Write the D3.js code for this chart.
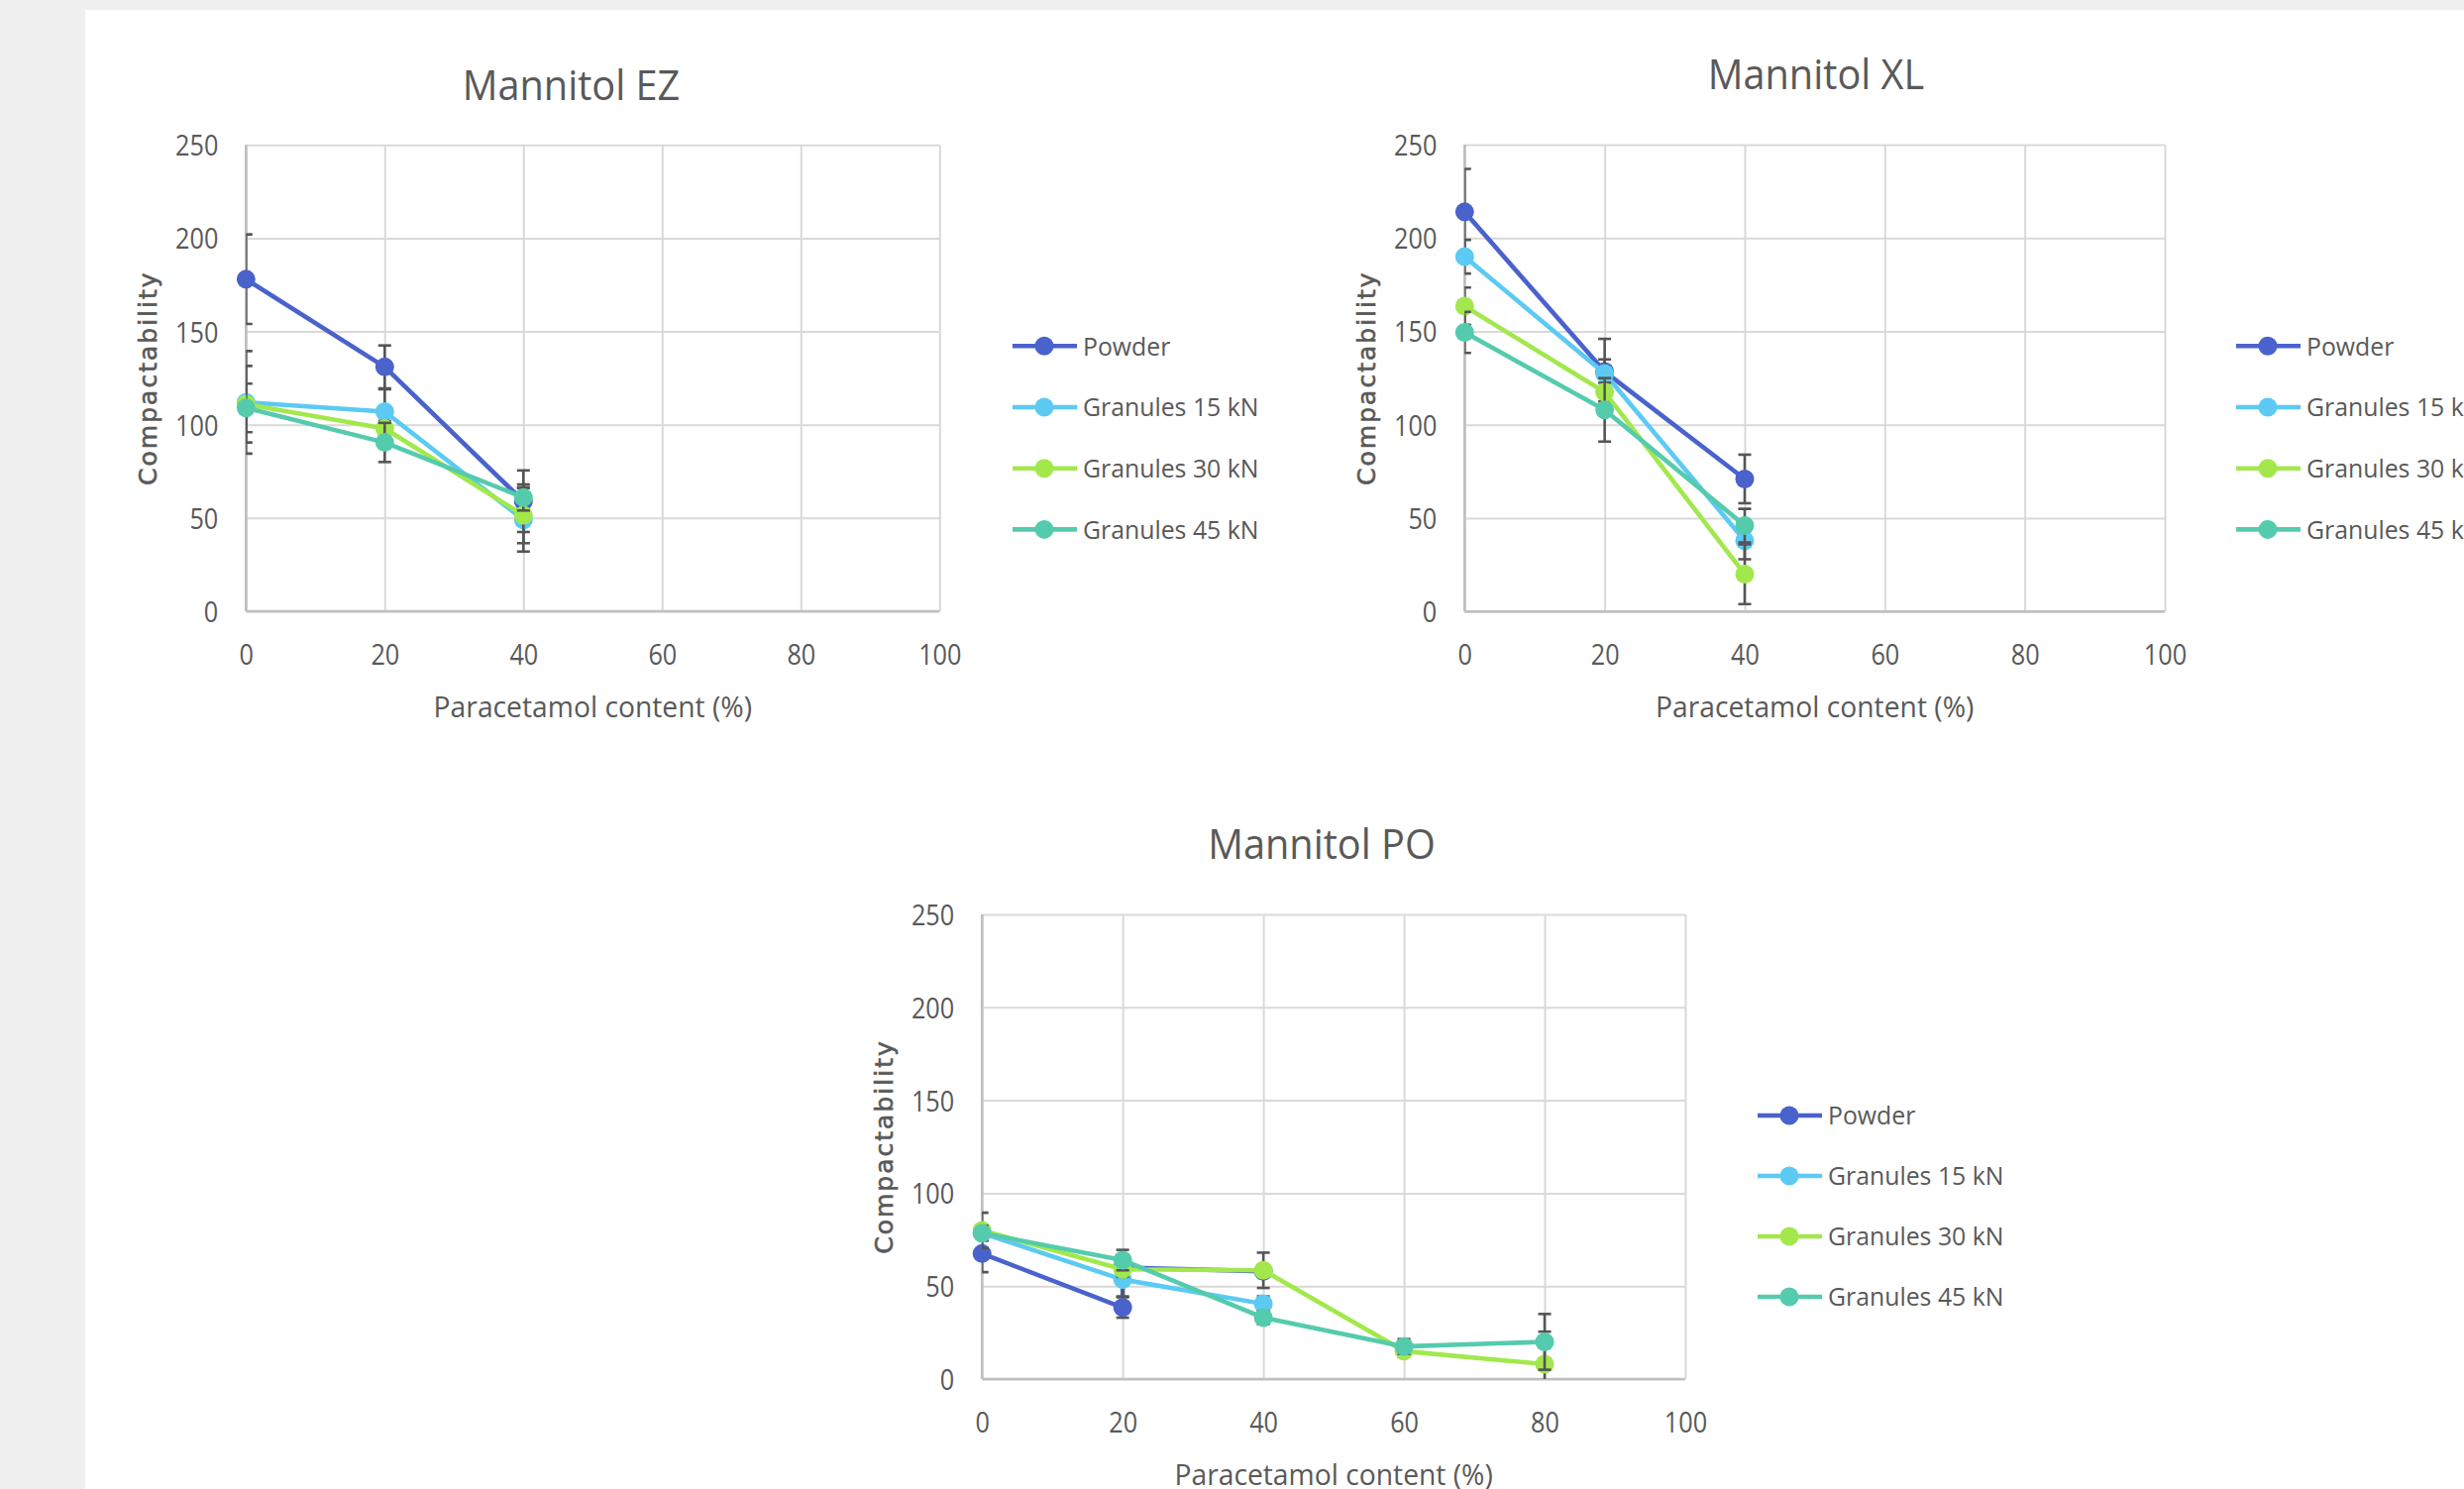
<!DOCTYPE html>
<html><head><meta charset="utf-8">
<script src="https://cdn.jsdelivr.net/npm/d3@7"></script>
<style>html,body{margin:0;padding:0;background:#f0f0f0;overflow:hidden}</style>
</head><body><svg id="c" width="2487" height="1503"></svg>
<script>
// ---------- DATA ----------
const seriesNames = ["Powder", "Granules 15 kN", "Granules 30 kN", "Granules 45 kN"];
const xTicks = [0, 20, 40, 60, 80, 100];
const yTicks = [0, 50, 100, 150, 200, 250];
const xTitle = "Paracetamol content (%)";
const yTitle = "Compactability";

// Mannitol EZ
const ezPowderX = [0, 20, 40], ezPowderY = [178, 131, 59], ezPowderErr = [24, 11.5, 16.5];
const ez15X = [0, 20, 40], ez15Y = [112, 107, 49], ez15Err = [27.5, 12, 17];
const ez30X = [0, 20, 40], ez30Y = [111, 98, 51.5], ez30Err = [20.5, 4, 15];
const ez45X = [0, 20, 40], ez45Y = [109, 90.5, 61], ez45Err = [13, 10.5, 7];

// Mannitol XL
const xlPowderX = [0, 20, 40], xlPowderY = [214, 128.5, 71], xlPowderErr = [23, 17.5, 13];
const xl15X = [0, 20, 40], xl15Y = [190, 127.5, 38], xl15Err = [9, 7.5, 10];
const xl30X = [0, 20, 40], xl30Y = [163.5, 117.5, 20], xl30Err = [10, 5, 16];
const xl45X = [0, 20, 40], xl45Y = [149.5, 108, 46], xl45Err = [11, 17, 9];

// Mannitol PO
const poPowderX = [0, 20, 20, 40], poPowderY = [67.5, 38.5, 60, 58], poPowderErr = [10, 5.5, 0, 0];
const po15X = [0, 20, 40], po15Y = [78.5, 53.5, 40.5], po15Err = [4, 9, 4];
const po30X = [0, 20, 40, 60, 80], po30Y = [80, 59, 58.5, 15, 8], po30Err = [9.5, 4, 9.5, 3, 17.5];
const po45X = [0, 20, 40, 60, 80], po45Y = [78.5, 64, 33, 17.5, 20], po45Err = [4, 5.5, 3.5, 4, 15];

// ---------- STYLE / LAYOUT ----------
const colors = ["#4a62cb", "#5ccaf2", "#a2e84c", "#55cbad"];
const textColor = "#595959";
const FONT = "'Open Sans', 'Liberation Sans', sans-serif";

const charts = [
  { title: "Mannitol EZ", left: 248.3, right: 948.3, top: 146.3, bottom: 617, titleX: 576.5, titleY: 101,
    legX: 1022, legY: 349.3, legStep: 61.7,
    series: [[ezPowderX, ezPowderY, ezPowderErr], [ez15X, ez15Y, ez15Err], [ez30X, ez30Y, ez30Err], [ez45X, ez45Y, ez45Err]] },
  { title: "Mannitol XL", left: 1478.3, right: 2185, top: 146, bottom: 617.3, titleX: 1833, titleY: 90,
    legX: 2257, legY: 349.3, legStep: 61.7,
    series: [[xlPowderX, xlPowderY, xlPowderErr], [xl15X, xl15Y, xl15Err], [xl30X, xl30Y, xl30Err], [xl45X, xl45Y, xl45Err]] },
  { title: "Mannitol PO", left: 991.2, right: 1701, top: 923, bottom: 1392, titleX: 1334, titleY: 867,
    legX: 1774, legY: 1126, legStep: 61,
    series: [[poPowderX, poPowderY, poPowderErr], [po15X, po15Y, po15Err], [po30X, po30Y, po30Err], [po45X, po45Y, po45Err]] }
];

const svg = d3.select("#c");
svg.append("rect").attr("width", 2487).attr("height", 1503).attr("fill", "#f0f0f0");
svg.append("rect").attr("x", 86).attr("y", 10).attr("width", 2487 - 86).attr("height", 1503 - 10).attr("fill", "#ffffff");

function label(parent, x, y, str, size, sx, anchor, rot) {
  const g = parent.append("g").attr("transform", `translate(${x},${y})` + (rot ? ` rotate(${rot})` : "") + ` scale(${sx},1)`);
  return g.append("text").attr("text-anchor", anchor).attr("font-family", FONT).attr("font-size", size)
    .attr("fill", textColor).text(str);
}

charts.forEach((c, ci) => {
  const g = svg.append("g");
  const x = d3.scaleLinear().domain([0, 100]).range([c.left, c.right]);
  const y = d3.scaleLinear().domain([0, 250]).range([c.bottom, c.top]);
  const W = c.right - c.left, H = c.bottom - c.top;

  // gridlines via axes
  const gx = g.append("g").attr("transform", `translate(0,${c.bottom})`)
    .call(d3.axisBottom(x).tickValues(xTicks).tickSize(-H).tickFormat(""));
  gx.select(".domain").remove();
  gx.selectAll(".tick line").attr("stroke", "#d9d9d9").attr("stroke-width", 2);
  const gy = g.append("g").attr("transform", `translate(${c.left},0)`)
    .call(d3.axisLeft(y).tickValues(yTicks).tickSize(-W).tickFormat(""));
  gy.select(".domain").remove();
  gy.selectAll(".tick line").attr("stroke", "#d9d9d9").attr("stroke-width", 2);

  // axis lines
  g.append("line").attr("x1", c.left).attr("x2", c.right).attr("y1", c.bottom).attr("y2", c.bottom)
    .attr("stroke", "#bfbfbf").attr("stroke-width", 2.6);
  g.append("line").attr("x1", c.left).attr("x2", c.left).attr("y1", c.top).attr("y2", c.bottom)
    .attr("stroke", "#bfbfbf").attr("stroke-width", 2.6);

  // tick labels through axes
  const sxDig = 0.87;
  const lx = g.append("g").attr("transform", `translate(0,${c.bottom + 54})`)
    .call(d3.axisBottom(x).tickValues(xTicks).tickSize(0).tickPadding(0));
  lx.select(".domain").remove();
  lx.selectAll("text").attr("y", 0).attr("dy", 0).attr("font-family", FONT).attr("font-size", 29)
    .attr("fill", textColor).attr("transform", `scale(${sxDig},1)`);
  const ly = g.append("g").attr("transform", `translate(${c.left - 28},0)`)
    .call(d3.axisLeft(y).tickValues(yTicks).tickSize(0).tickPadding(0));
  ly.select(".domain").remove();
  ly.selectAll("text").attr("x", 0).attr("dy", "0.36em").attr("font-family", FONT).attr("font-size", 29)
    .attr("fill", textColor).attr("transform", `scale(${sxDig},1)`);

  // titles
  label(g, c.titleX, c.titleY, c.title, 42, 0.945, "middle");
  label(g, (c.left + c.right) / 2, c.bottom + 107, xTitle, 29, 0.975, "middle");
  g.append("text").attr("transform", `translate(${c.left - 99},${(c.top + c.bottom) / 2}) rotate(-90)`)
    .attr("text-anchor", "middle").attr("dy", "0.36em").attr("font-family", "'DejaVu Sans', sans-serif")
    .attr("font-size", 25).attr("letter-spacing", 2).attr("fill", textColor)
    .attr("stroke", textColor).attr("stroke-width", 0.6).text(yTitle);

  // clip for error bars
  const clipId = "clip" + ci;
  svg.append("clipPath").attr("id", clipId).append("rect")
    .attr("x", c.left).attr("y", c.top - 20).attr("width", W + 20).attr("height", H + 20);

  const line = d3.line().x(d => x(d[0])).y(d => y(d[1]));
  c.series.forEach((s, si) => {
    const pts = s[0].map((xv, i) => [xv, s[1][i], s[2][i]]);
    const eb = g.append("g").attr("clip-path", `url(#${clipId})`).attr("stroke", "#555555").attr("stroke-width", 2.6);
    pts.filter(p => p[2] > 0).forEach(p => {
      const xp = x(p[0]), y1 = y(p[1] + p[2]), y2 = y(p[1] - p[2]);
      eb.append("line").attr("x1", xp).attr("x2", xp).attr("y1", y1).attr("y2", y2);
      eb.append("line").attr("x1", xp - 6.5).attr("x2", xp + 6.5).attr("y1", y1).attr("y2", y1);
      eb.append("line").attr("x1", xp - 6.5).attr("x2", xp + 6.5).attr("y1", y2).attr("y2", y2);
    });
    g.append("path").datum(pts).attr("d", line).attr("fill", "none")
      .attr("stroke", colors[si]).attr("stroke-width", 4.6).attr("stroke-linejoin", "round");
    g.selectAll(null).data(pts).enter().append("circle")
      .attr("cx", d => x(d[0])).attr("cy", d => y(d[1])).attr("r", 9.5).attr("fill", colors[si]);
  });

  // legend
  seriesNames.forEach((n, i) => {
    const yy = c.legY + i * c.legStep;
    g.append("line").attr("x1", c.legX).attr("x2", c.legX + 65).attr("y1", yy).attr("y2", yy)
      .attr("stroke", colors[i]).attr("stroke-width", 4.6);
    g.append("circle").attr("cx", c.legX + 32).attr("cy", yy).attr("r", 9.5).attr("fill", colors[i]);
    label(g, c.legX + 71, yy, n, 26, 0.955, "start").attr("dy", "0.36em");
  });
});
</script>
</body></html>
